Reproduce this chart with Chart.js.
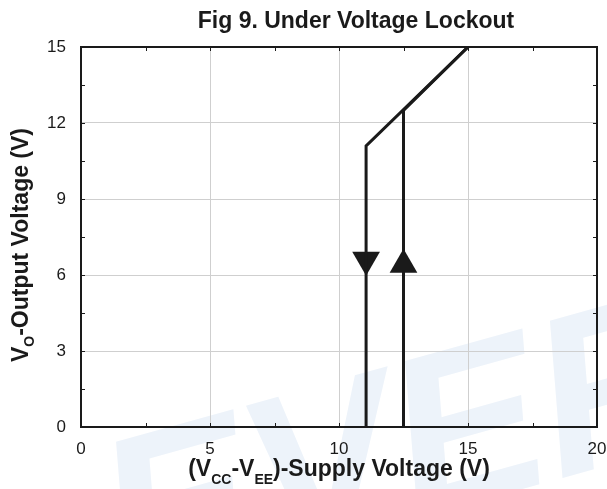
<!DOCTYPE html>
<html>
<head>
<meta charset="utf-8">
<script src="https://cdn.jsdelivr.net/npm/chart.js@4.4.0/dist/chart.umd.min.js"></script>
<style>
  body { margin: 0; background: #fff; }
  #chart { display: block; }
</style>
</head>
<body>
<canvas id="chart" width="607" height="489"></canvas>
<script>
// rising branch (output turns on) and falling branch (output turns off)
const riseSupply = [12.5, 12.5, 15];
const riseOutput = [0, 12.5, 15];
const fallSupply = [15, 11.05, 11.05];
const fallOutput = [15, 11.1, 0];
// direction arrows on the two verticals
const arrowSupply = [11.05, 12.5];
const arrowOutput = [6.6, 6.4];
const arrowTurn = [180, 0];

const xLabels = [0, 5, 10, 15, 20];
const yLabels = [0, 3, 6, 9, 12, 15];

const FONT = '"Liberation Sans", Arial, sans-serif';
const INK = '#1a1a1a';

function toPoints(xs, ys) {
  return xs.map((x, i) => ({ x: x, y: ys[i] }));
}

// text with subscripts, parts = [[text, isSub], ...]
function drawParts(ctx, parts, x, y, subDrop) {
  const main = 'bold 23px ' + FONT;
  const sub = 'bold 14px ' + FONT;
  let total = 0;
  parts.forEach(p => {
    ctx.font = p[1] ? sub : main;
    total += ctx.measureText(p[0]).width;
  });
  let cx = x - total / 2;
  ctx.textAlign = 'left';
  ctx.textBaseline = 'alphabetic';
  parts.forEach(p => {
    ctx.font = p[1] ? sub : main;
    ctx.fillText(p[0], cx, p[1] ? y + subDrop : y);
    cx += ctx.measureText(p[0]).width;
  });
}

const framePlugin = {
  id: 'frame',
  beforeDraw(chart) {
    const ctx = chart.ctx;
    ctx.save();
    ctx.fillStyle = '#fff';
    ctx.fillRect(0, 0, chart.width, chart.height);
    // faint watermark
    ctx.translate(125, 600);
    ctx.rotate(-15.6 * Math.PI / 180);
    ctx.font = 'italic bold 225px ' + FONT;
    ctx.fillStyle = '#edf3fa';
    ctx.textBaseline = 'alphabetic';
    ctx.fillText('EVERLIGHT', 0, 0);
    ctx.restore();
  },
  afterDraw(chart) {
    const ctx = chart.ctx;
    const a = chart.chartArea;
    const sx = chart.scales.x, sy = chart.scales.y;
    ctx.save();
    ctx.strokeStyle = INK;
    ctx.lineWidth = 1;
    // small inside ticks
    ctx.beginPath();
    sx.ticks.forEach(t => {
      const px = Math.round(sx.getPixelForValue(t.value)) + 0.5;
      ctx.moveTo(px, a.bottom); ctx.lineTo(px, a.bottom - 4);
      ctx.moveTo(px, a.top); ctx.lineTo(px, a.top + 4);
    });
    sy.ticks.forEach(t => {
      const py = Math.round(sy.getPixelForValue(t.value)) + 0.5;
      ctx.moveTo(a.left, py); ctx.lineTo(a.left + 4, py);
      ctx.moveTo(a.right, py); ctx.lineTo(a.right - 4, py);
    });
    ctx.stroke();
    // plot frame
    ctx.lineWidth = 2;
    ctx.strokeRect(a.left, a.top, a.right - a.left, a.bottom - a.top);

    ctx.fillStyle = INK;
    // title
    ctx.font = 'bold 23px ' + FONT;
    ctx.textAlign = 'center';
    ctx.textBaseline = 'alphabetic';
    ctx.fillText('Fig 9. Under Voltage Lockout', 356, 28);
    // x axis title
    drawParts(ctx, [['(V', 0], ['CC', 1], ['-V', 0], ['EE', 1], [')-Supply Voltage (V)', 0]], 339, 476, 8);
    // y axis title
    ctx.translate(28, 245);
    ctx.rotate(-Math.PI / 2);
    drawParts(ctx, [['V', 0], ['O', 1], ['-Output Voltage (V)', 0]], 0, 0, 6);
    ctx.restore();
  }
};

function gridColor(list) {
  return c => (list.includes(c.tick.value) ? '#cfcfcf' : 'rgba(0,0,0,0)');
}

new Chart(document.querySelector('#chart').getContext('2d'), {
  type: 'scatter',
  data: {
    datasets: [
      {
        label: 'Rising',
        data: toPoints(riseSupply, riseOutput),
        showLine: true,
        borderColor: INK,
        borderWidth: 3,
        pointRadius: 0,
        tension: 0
      },
      {
        label: 'Falling',
        data: toPoints(fallSupply, fallOutput),
        showLine: true,
        borderColor: INK,
        borderWidth: 3,
        pointRadius: 0,
        tension: 0
      },
      {
        label: 'Direction',
        data: toPoints(arrowSupply, arrowOutput),
        showLine: false,
        pointStyle: 'triangle',
        pointRadius: 16,
        pointRotation: arrowTurn,
        pointBackgroundColor: INK,
        pointBorderWidth: 0
      }
    ]
  },
  options: {
    responsive: false,
    animation: false,
    layout: { autoPadding: false, padding: { left: 0, top: 47, right: 10, bottom: 0 } },
    plugins: {
      legend: { display: false },
      tooltip: { enabled: false }
    },
    scales: {
      x: {
        type: 'linear',
        min: 0,
        max: 20,
        afterFit: s => { s.height = 62; s.paddingLeft = 0; s.paddingRight = 0; },
        border: { display: false },
        grid: { color: gridColor(xLabels), drawTicks: false, lineWidth: 1 },
        ticks: {
          stepSize: 2.5,
          autoSkip: false,
          maxRotation: 0,
          padding: 12,
          color: INK,
          font: { family: FONT, size: 17 },
          callback: v => (xLabels.includes(v) ? String(v) : '')
        }
      },
      y: {
        type: 'linear',
        min: 0,
        max: 15,
        afterFit: s => { s.width = 81; s.paddingTop = 0; s.paddingBottom = 0; },
        border: { display: false },
        grid: { color: gridColor(yLabels), drawTicks: false, lineWidth: 1 },
        ticks: {
          stepSize: 1.5,
          autoSkip: false,
          padding: 15,
          color: INK,
          font: { family: FONT, size: 17 },
          callback: v => (yLabels.includes(v) ? String(v) : '')
        }
      }
    }
  },
  plugins: [framePlugin]
});
</script>
</body>
</html>
